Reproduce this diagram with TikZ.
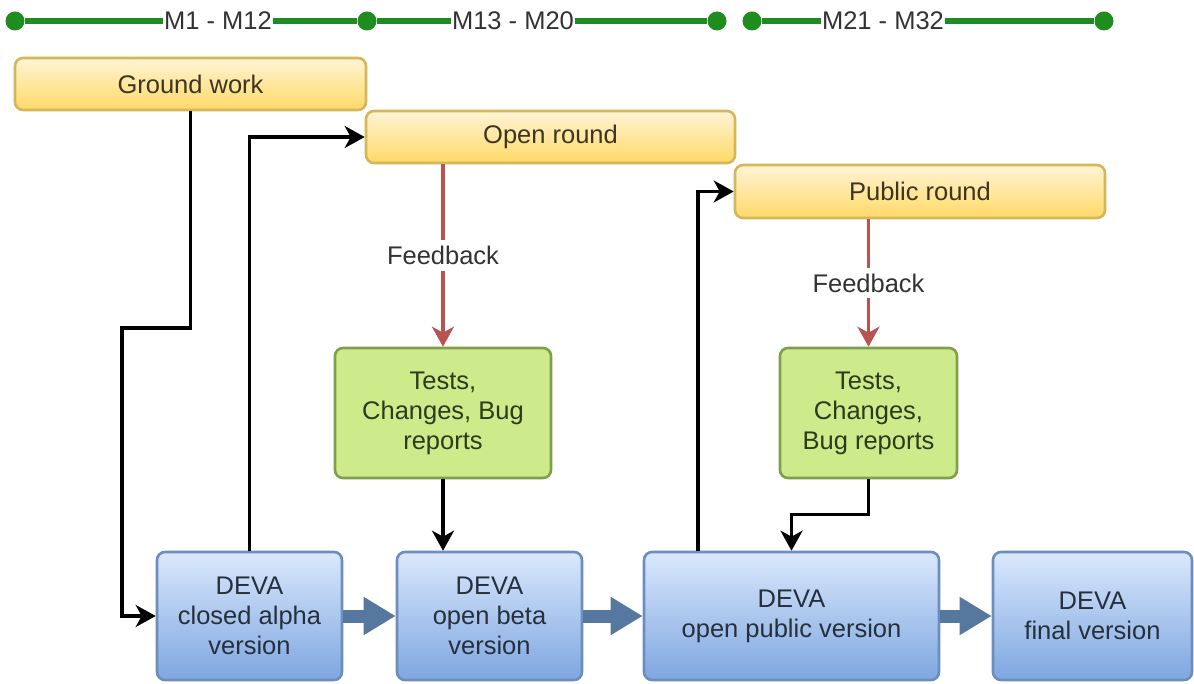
\documentclass[tikz,border=0pt]{standalone}
\usepackage{fontspec}
\setmainfont{Liberation Sans}
\usetikzlibrary{arrows.meta,calc}

\definecolor{tlgreen}{HTML}{1E8C1E}
\definecolor{phasetop}{HTML}{FFF4D6}
\definecolor{phasebot}{HTML}{FFD966}
\definecolor{phaseedge}{HTML}{D6B656}
\definecolor{phasetext}{HTML}{3D3520}
\definecolor{workfill}{HTML}{CDEB8B}
\definecolor{workedge}{HTML}{7FA04A}
\definecolor{worktext}{HTML}{2D3A1C}
\definecolor{reltop}{HTML}{DAE8FC}
\definecolor{relbot}{HTML}{7EA6E0}
\definecolor{reledge}{HTML}{6C8EBF}
\definecolor{reltext}{HTML}{26303D}
\definecolor{blockblue}{HTML}{56789E}
\definecolor{fbred}{HTML}{B85450}
\definecolor{labelgray}{HTML}{333333}

\begin{document}
\begin{tikzpicture}[
  x=1pt, y=-1pt,
  txt/.style={font=\fontsize{25.5pt}{30pt}\selectfont},
  base/.style={txt, rounded corners=8pt, line width=2.6pt, align=center, inner sep=0pt},
  phase/.style={base, draw=phaseedge, top color=phasetop, bottom color=phasebot, text=phasetext},
  work/.style={base, draw=workedge, fill=workfill, text=worktext},
  release/.style={base, draw=reledge, top color=reltop, bottom color=relbot, text=reltext},
  tldot/.style={circle, fill=tlgreen, minimum size=19pt, inner sep=0pt},
  tllabel/.style={txt, text=labelgray, inner xsep=0.5pt, inner ysep=2pt},
  tlline/.style={line width=6pt, draw=tlgreen},
  tip/.style={-{Stealth[length=20pt,width=22pt,inset=6pt]}},
  flow/.style={line width=3.3pt, draw=black, tip},
  fb/.style={line width=3.3pt, draw=fbred, tip},
  fblabel/.style={txt, text=labelgray, fill=white, inner xsep=2pt, inner ysep=6pt},
  blockarrow/.style={line width=13pt, draw=blockblue, -{Triangle[length=32pt,width=36pt]}}
]
\useasboundingbox (0,0) rectangle (1194,684);
\fill[white] (0,0) rectangle (1194,684);

% timeline of the three periods
\node[tldot] (t1) at (15,21) {};
\node[tldot] (t2) at (367,21) {};
\node[tldot] (t3) at (717,21) {};
\node[tldot] (t4) at (752,21) {};
\node[tldot] (t5) at (1104,21) {};
\node[tllabel] (m1) at (218,21) {M1 - M12};
\node[tllabel] (m2) at (513,21) {M13 - M20};
\node[tllabel] (m3) at (883,21) {M21 - M32};
\draw[tlline] (t1) -- (m1) -- (t2);
\draw[tlline] (t2) -- (m2) -- (t3);
\draw[tlline] (t4) -- (m3) -- (t5);

% phases
\node[phase, minimum width=351pt, minimum height=52pt] (gw) at (190.5,84) {Ground work};
\node[phase, minimum width=369pt, minimum height=52pt] (open) at (550.5,137) {Open round};
\node[phase, minimum width=370pt, minimum height=53pt] (pub) at (920,191.5) {Public round};

% work packages
\node[work, minimum width=216pt, minimum height=130pt] (g1) at (443,413) {Tests,\\Changes, Bug\\reports};
\node[work, minimum width=177pt, minimum height=130pt] (g2) at (868.5,413) {Tests,\\Changes,\\Bug reports};

% releases
\node[release, minimum width=185pt, minimum height=128pt] (b1) at (249.5,616) {DEVA\\closed alpha\\version};
\node[release, minimum width=185pt, minimum height=128pt] (b2) at (489.5,616) {DEVA\\open beta\\version};
\node[release, minimum width=295pt, minimum height=128pt] (b3) at (791.5,616) {DEVA\\open public version};
\node[release, minimum width=199pt, minimum height=128pt] (b4) at (1092.5,616) {DEVA\\final version};

% release sequence
\draw[blockarrow] (b1.east) -- (b2.west);
\draw[blockarrow] (b2.east) -- (b3.west);
\draw[blockarrow] (b3.east) -- (b4.west);

% connectors
\coordinate (gwbend) at (122,328);
\draw[flow] (gw.south) |- (gwbend) |- (b1.west);
\draw[flow] (b1.north) |- (open.west);
\draw[fb] (g1.north |- open.south) -- node[fblabel] {Feedback} (g1.north);
\draw[flow] (g1.south) -- (g1.south |- b2.north);
\draw[flow] ([xshift=-93.5pt]b3.north) |- (pub.west);
\draw[fb] (g2.north |- pub.south) -- node[fblabel] {Feedback} (g2.north);
\draw[flow] (g2.south) -- ++(0,35) -| (b3.north);
\end{tikzpicture}
\end{document}
